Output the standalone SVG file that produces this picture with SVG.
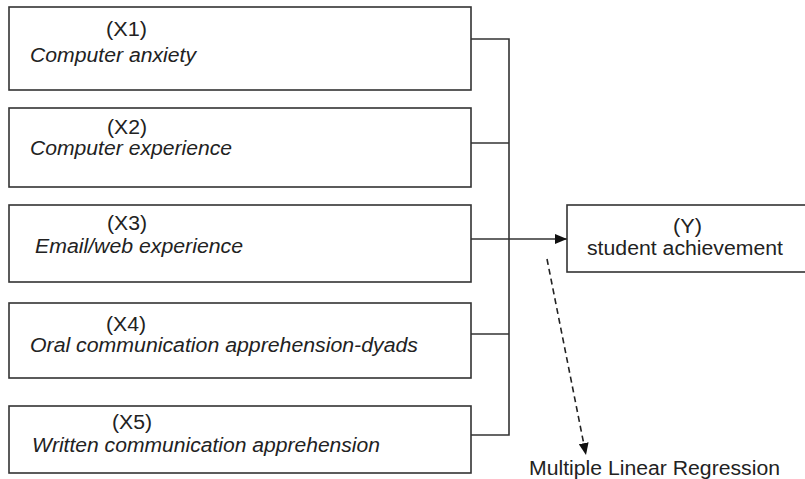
<svg xmlns="http://www.w3.org/2000/svg" width="805" height="479" viewBox="0 0 805 479">
<defs>
<style>
.box{fill:#fff;stroke:#333;stroke-width:1.6}
.ln{fill:none;stroke:#333;stroke-width:1.6}
.dash{fill:none;stroke:#222;stroke-width:1.6;stroke-dasharray:6 4}
text{font-family:"Liberation Sans",Arial,sans-serif;font-size:20px;fill:#222}
.it{font-style:italic}
</style>
<marker id="ah" viewBox="0 0 12 10" refX="12" refY="5" markerWidth="12" markerHeight="10" markerUnits="userSpaceOnUse" orient="auto">
<path d="M0,0 L12,5 L0,10 Z" fill="#111"/>
</marker>
</defs>
<rect width="805" height="479" fill="#fff"/>
<g id="connectors">
<path class="ln" d="M471,39 H509 V435 H471"/>
<path class="ln" d="M471,143 H509"/>
<path class="ln" d="M471,334 H509"/>
<path class="ln" d="M471,239 H567" marker-end="url(#ah)"/>
<path class="dash" d="M547,259 L586,455" marker-end="url(#ah)"/>
</g>
<g id="x1">
<rect class="box" x="9" y="7" width="462" height="83"/>
<text x="106" y="36" textLength="41" lengthAdjust="spacingAndGlyphs">(X1)</text>
<text class="it" x="30" y="62" textLength="166" lengthAdjust="spacingAndGlyphs">Computer anxiety</text>
</g>
<g id="x2">
<rect class="box" x="9" y="108" width="462" height="79"/>
<text x="107" y="134" textLength="40" lengthAdjust="spacingAndGlyphs">(X2)</text>
<text class="it" x="30" y="155" textLength="202" lengthAdjust="spacingAndGlyphs">Computer experience</text>
</g>
<g id="x3">
<rect class="box" x="9" y="205" width="462" height="77"/>
<text x="107" y="230" textLength="40" lengthAdjust="spacingAndGlyphs">(X3)</text>
<text class="it" x="35" y="253" textLength="208" lengthAdjust="spacingAndGlyphs">Email/web experience</text>
</g>
<g id="x4">
<rect class="box" x="9" y="303" width="462" height="75"/>
<text x="106" y="331" textLength="40" lengthAdjust="spacingAndGlyphs">(X4)</text>
<text class="it" x="30" y="352" textLength="388" lengthAdjust="spacingAndGlyphs">Oral communication apprehension-dyads</text>
</g>
<g id="x5">
<rect class="box" x="9" y="406" width="462" height="67"/>
<text x="112" y="429" textLength="40" lengthAdjust="spacingAndGlyphs">(X5)</text>
<text class="it" x="32" y="452" textLength="348" lengthAdjust="spacingAndGlyphs">Written communication apprehension</text>
</g>
<g id="y">
<rect class="box" x="567" y="205" width="260" height="67"/>
<text x="673" y="233" textLength="29" lengthAdjust="spacingAndGlyphs">(Y)</text>
<text x="587" y="255" textLength="196" lengthAdjust="spacingAndGlyphs">student achievement</text>
</g>
<g id="mlr">
<text x="529" y="475" textLength="251" lengthAdjust="spacingAndGlyphs">Multiple Linear Regression</text>
</g>
</svg>
